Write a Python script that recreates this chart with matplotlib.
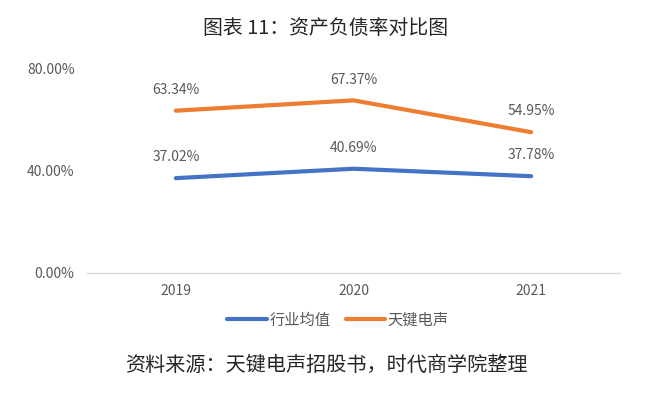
import matplotlib
matplotlib.use("Agg")
import matplotlib.pyplot as plt
from matplotlib.ticker import FuncFormatter

plt.rcParams["font.family"] = ["Noto Sans CJK SC", "DejaVu Sans"]

# 数据
years = ["2019", "2020", "2021"]
industry_avg = [37.02, 40.69, 37.78]
tianjian = [63.34, 67.37, 54.95]
series_names = ["行业均值", "天键电声"]
colors = ["#4472C4", "#ED7D31"]
yticks = [0, 40, 80]

fig = plt.figure(figsize=(6.52, 3.98), dpi=100)
ax = fig.add_axes([87 / 652, 1 - 273 / 398, (620 - 87) / 652, (273 - 68) / 398])

x = list(range(len(years)))
for vals, name, c in zip([industry_avg, tianjian], series_names, colors):
    ax.plot(x, vals, color=c, lw=3, label=name, solid_capstyle="round")
    for xi, v in zip(x, vals):
        ax.annotate(f"{v:.2f}%", (xi, v), xytext=(0, 15), textcoords="offset points",
                    ha="center", va="center", fontsize=10, color="#595959")

ax.set_xlim(-0.5, len(years) - 0.5)
ax.set_ylim(0, 80)
ax.set_yticks(yticks)
ax.yaxis.set_major_formatter(FuncFormatter(lambda v, p: f"{v:.2f}%"))
ax.set_xticks(x)
ax.set_xticklabels(years)
ax.tick_params(axis="both", length=0, labelsize=10, labelcolor="#595959")
ax.tick_params(axis="y", pad=9)
ax.tick_params(axis="x", pad=8)
for s in ["top", "right", "left"]:
    ax.spines[s].set_visible(False)
ax.spines["bottom"].set_color("#D9D9D9")
ax.spines["bottom"].set_linewidth(1)

leg = fig.legend(loc="center", bbox_to_anchor=(338 / 652, 1 - 320 / 398), ncol=2, frameon=False,
                 handlelength=2.6, handletextpad=0.15, columnspacing=1.0,
                 prop={"family": ["Noto Sans CJK SC"], "size": 11})
for t in leg.get_texts():
    t.set_color("#595959")

fig.text(0.5, 1 - 28 / 398, "图表 11：资产负债率对比图", ha="center", va="center",
         fontsize=14.3, color="#262626", family=["Noto Sans CJK SC"])
fig.text(0.5, 1 - 365 / 398, "资料来源：天键电声招股书，时代商学院整理", ha="center", va="center",
         fontsize=14.5, color="#262626", family=["Noto Sans CJK SC"])

fig.savefig("out.png", dpi=100)
